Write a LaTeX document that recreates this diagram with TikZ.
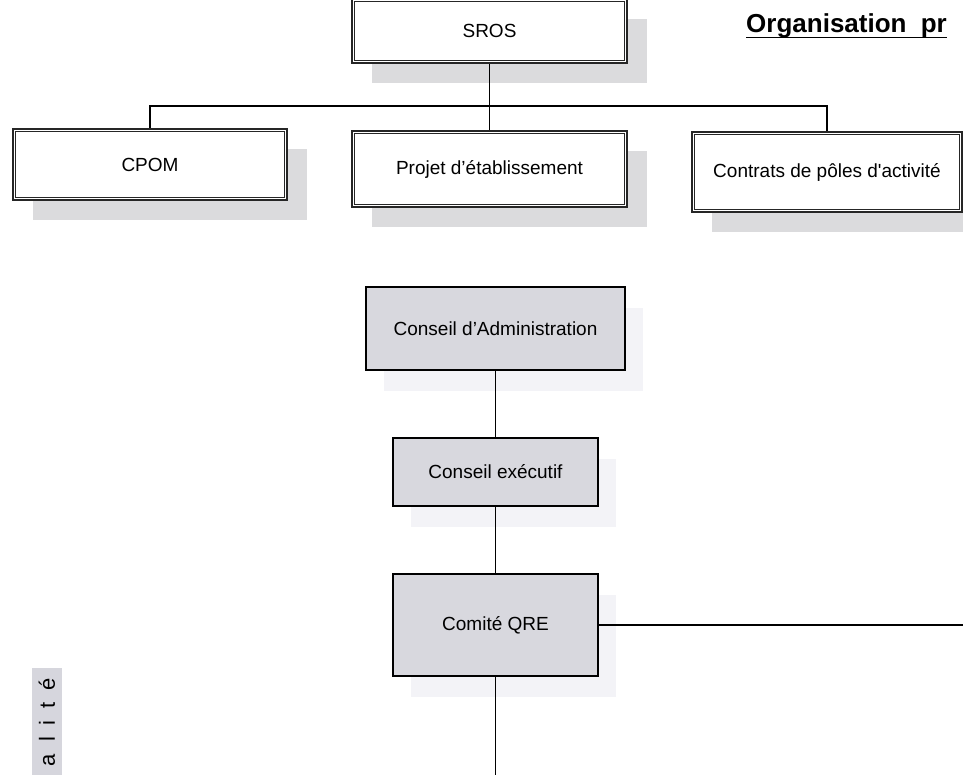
\documentclass[tikz,border=0pt]{standalone}
\usepackage{fontspec}
\setmainfont{Liberation Sans}
\usetikzlibrary{shadows}
\definecolor{boxgray}{RGB}{216,216,222}
\definecolor{shadowgray}{RGB}{219,219,221}
\definecolor{faintshadow}{RGB}{243,243,247}
\definecolor{stripgray}{RGB}{214,214,221}
\begin{document}
\begin{tikzpicture}[x=1pt,y=-1pt,
  every node/.style={inner sep=0pt, font=\fontsize{19}{22}\selectfont},
  topbox/.style={draw=black!85, line width=2.2pt, fill=white,
    general shadow={fill=shadowgray, shadow xshift=20pt, shadow yshift=-20pt}},
  graybox/.style={draw=black, line width=1.4pt, fill=boxgray,
    general shadow={fill=faintshadow, shadow xshift=18pt, shadow yshift=-21pt}},
  innerline/.style={draw=black!85, line width=0.9pt},
  conn/.style={draw=black, line width=1.3pt}]
\useasboundingbox (0,0) rectangle (963,775);
\clip (0,0) rectangle (963,775);
\fill[white] (0,0) rectangle (963,775);

% title
\node[font=\fontsize{26}{30}\selectfont\bfseries, anchor=base west] (title) at (746,33) {Organisation\hspace{7pt} pr};
\draw[line width=1.8pt] ([yshift=-4.5pt]title.base west) -- ([yshift=-4.5pt]title.base east);

% top row
\node[topbox, minimum width=275pt, minimum height=64pt] (sros) at (489.5,31) {SROS};
\node[topbox, minimum width=274pt, minimum height=71pt] (cpom) at (150,164.5) {CPOM};
\node[topbox, minimum width=275pt, minimum height=76pt] (projet) at (489.5,169) {Projet d’établissement};
\node[topbox, minimum width=270pt, minimum height=80pt] (contrats) at (827,172) {Contrats de pôles d\textquotesingle activité};
\foreach \n in {sros,cpom,projet,contrats}
  \draw[innerline] ([shift={(3.6pt,-3.6pt)}]\n.north west) rectangle ([shift={(-3.6pt,3.6pt)}]\n.south east);

\coordinate (bus) at (489.5,106);
\draw[conn] (sros.south) -- (projet.north);
\draw[conn] (cpom.north) |- (bus) -| (contrats.north);

% gray column
\node[graybox, minimum width=259pt, minimum height=83pt] (ca) at (495.5,328.5) {Conseil d’Administration};
\node[graybox, minimum width=205pt, minimum height=68pt] (ce) at (495.5,472) {Conseil exécutif};
\node[graybox, minimum width=205pt, minimum height=102pt] (qre) at (495.5,625) {Comité QRE};
\coordinate (qreright) at (963,625);
\coordinate (qrebottom) at (495.5,775);
\draw[conn] (ca.south) -- (ce.north);
\draw[conn] (ce.south) -- (qre.north);
\draw[conn] (qre.east) -- (qreright);
\draw[conn] (qre.south) -- (qrebottom);

% side strip
\fill[stripgray] (32,668) rectangle (62,775);
\node[rotate=90, font=\fontsize{22}{24}\selectfont] (qual) at (47,722) {\spaceskip=12pt a l i t é};
\end{tikzpicture}
\end{document}
